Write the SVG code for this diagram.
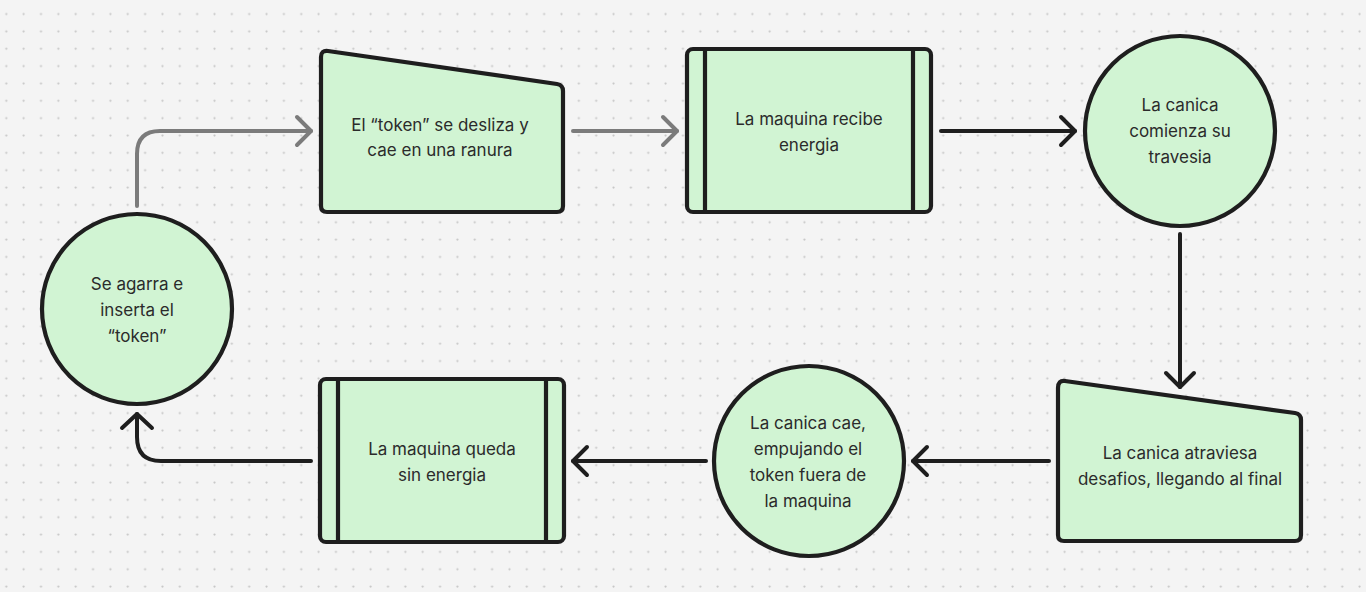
<svg xmlns="http://www.w3.org/2000/svg" width="1366" height="592" viewBox="0 0 1366 592">
<defs>
<pattern id="dots" x="0" y="0" width="17.35" height="17.35" patternUnits="userSpaceOnUse">
<circle cx="6.3" cy="14" r="1.1" fill="#c6c6c6"/>
</pattern>
<style>
.shape{fill:#d1f4d3;stroke:#1e1e1e;stroke-width:4.2;stroke-linejoin:round}
.bar{stroke:#1e1e1e;stroke-width:4.2}
.lbl{font-family:Inter,"Noto Sans","Liberation Sans",sans-serif;font-size:17px;fill:#2b2b2b;text-anchor:middle}
.conn{fill:none;stroke-width:4;stroke-linecap:round;stroke-linejoin:round}
.dark{stroke:#1e1e1e}
.gray{stroke:#7b7b7b}
</style>
</defs>
<rect width="1366" height="592" fill="#f4f4f4"/>
<rect width="1366" height="592" fill="url(#dots)"/>

<g id="connectors">
<path class="conn gray" d="M137,206 V154 Q137,131 160,131 H311"/>
<path class="conn gray" d="M297,117 L311,131 L297,145"/>
<path class="conn gray" d="M573,131 H677"/>
<path class="conn gray" d="M663,117 L677,131 L663,145"/>
<path class="conn dark" d="M941,131 H1075"/>
<path class="conn dark" d="M1061,117 L1075,131 L1061,145"/>
<path class="conn dark" d="M1180,234 V387"/>
<path class="conn dark" d="M1166,373 L1180,387 L1194,373"/>
<path class="conn dark" d="M1049,461 H913"/>
<path class="conn dark" d="M927,447 L913,461 L927,475"/>
<path class="conn dark" d="M706,461 H573"/>
<path class="conn dark" d="M587,447 L573,461 L587,475"/>
<path class="conn dark" d="M311,461 H161 Q137,461 137,437 V414"/>
<path class="conn dark" d="M122,428 L137,414 L152,428"/>
</g>

<g id="node-token-slides">
<path class="shape" d="M321,57 Q321,50 328,51 L557,84 Q563,85 563,91 L563,206 Q563,212 557,212 L327,212 Q321,212 321,206 Z"/>
<text class="lbl" x="440" y="131">El “token” se desliza y</text>
<text class="lbl" x="440" y="156">cae en una ranura</text>
</g>

<g id="node-machine-receives">
<rect class="shape" x="687" y="49" width="244" height="163" rx="6"/>
<line class="bar" x1="705" y1="49" x2="705" y2="212"/>
<line class="bar" x1="913" y1="49" x2="913" y2="212"/>
<text class="lbl" x="809" y="125">La maquina recibe</text>
<text class="lbl" x="809" y="151">energia</text>
</g>

<g id="node-marble-starts">
<circle class="shape" cx="1180" cy="131" r="95"/>
<text class="lbl" x="1180" y="111">La canica</text>
<text class="lbl" x="1180" y="137">comienza su</text>
<text class="lbl" x="1180" y="163">travesia</text>
</g>

<g id="node-challenges">
<path class="shape" d="M1058,388 Q1058,380 1065,381 L1295,413 Q1301,414 1301,420 L1301,535 Q1301,541 1295,541 L1064,541 Q1058,541 1058,535 Z"/>
<text class="lbl" x="1180" y="459">La canica atraviesa</text>
<text class="lbl" x="1180" y="485">desafios, llegando al final</text>
</g>

<g id="node-marble-falls">
<circle class="shape" cx="809" cy="461" r="95"/>
<text class="lbl" x="808" y="429">La canica cae,</text>
<text class="lbl" x="808" y="455">empujando el</text>
<text class="lbl" x="808" y="481">token fuera de</text>
<text class="lbl" x="808" y="507">la maquina</text>
</g>

<g id="node-machine-off">
<rect class="shape" x="320" y="379" width="244" height="163" rx="6"/>
<line class="bar" x1="338" y1="379" x2="338" y2="542"/>
<line class="bar" x1="546" y1="379" x2="546" y2="542"/>
<text class="lbl" x="442" y="455">La maquina queda</text>
<text class="lbl" x="442" y="481">sin energia</text>
</g>

<g id="node-insert-token">
<circle class="shape" cx="137" cy="309" r="95"/>
<text class="lbl" x="137" y="290">Se agarra e</text>
<text class="lbl" x="137" y="316">inserta el</text>
<text class="lbl" x="137" y="342">“token”</text>
</g>
</svg>
